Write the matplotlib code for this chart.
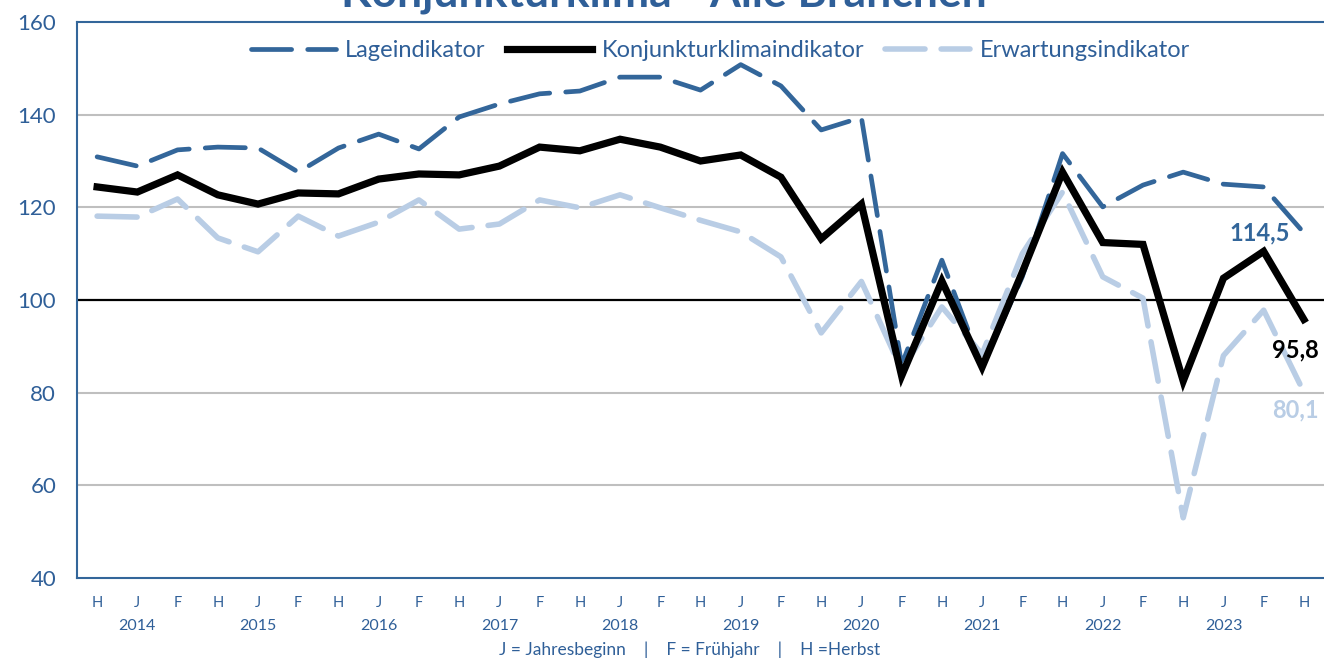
import matplotlib
matplotlib.use("Agg")
import matplotlib.pyplot as plt
from matplotlib.transforms import blended_transform_factory

plt.rcParams['font.family'] = ['Lato', 'DejaVu Sans']

periods = ["H", "J", "F"] * 10 + ["H"]
years = ["2014", "2015", "2016", "2017", "2018", "2019", "2020", "2021", "2022", "2023"]

lage = [130.9, 128.9, 132.4, 133.0, 132.8, 127.6, 132.8, 135.8, 132.6, 139.5,
        142.3, 144.5, 145.1, 148.1, 148.1, 145.3, 150.8, 146.2, 136.7, 139.4,
        86.0, 108.6, 85.5, 105.0, 131.6, 120.1, 124.8, 127.6, 125.0, 124.4, 114.5]
klima = [124.4, 123.3, 127.0, 122.7, 120.7, 123.1, 122.9, 126.1, 127.2, 127.0,
         128.9, 133.0, 132.2, 134.7, 133.0, 130.0, 131.3, 126.5, 113.2, 120.7,
         83.6, 104.1, 85.5, 106.0, 127.6, 112.4, 112.0, 82.5, 104.7, 110.5, 95.8]
erwartung = [118.1, 117.9, 121.8, 113.4, 110.4, 118.1, 113.8, 116.8, 121.6, 115.3,
             116.4, 121.6, 119.9, 122.7, 119.9, 117.2, 114.7, 109.3, 92.9, 104.0,
             84.9, 98.5, 88.3, 110.0, 123.3, 105.0, 100.4, 53.0, 88.0, 97.8, 80.1]

DARK = "#33669A"
LIGHT = "#B9CDE5"
TXT = "#2F5F98"

fig = plt.figure(figsize=(13.24, 6.60), dpi=100)
ax = fig.add_axes([77 / 1324, 1 - 578 / 660, 1 - 77 / 1324, (578 - 22) / 660])

x = list(range(len(periods)))

ax.set_ylim(40, 160)
ax.set_xlim(-0.5, len(periods) - 0.5)
ax.set_yticks([40, 60, 80, 100, 120, 140, 160])
for yv in [60, 80, 120, 140]:
    ax.axhline(yv, color="#BFBFBF", lw=1.5, zorder=1)
ax.axhline(100, color="black", lw=1.6, zorder=2)

l1, = ax.plot(x, lage, color=DARK, lw=3.4, linestyle=(0, (8.5, 3.4)),
              dash_capstyle='round', solid_capstyle='round', zorder=3,
              label="Lageindikator")
l3, = ax.plot(x, erwartung, color=LIGHT, lw=4.0, linestyle=(0, (7.2, 2.9)),
              dash_capstyle='round', zorder=3, label="Erwartungsindikator")
l2, = ax.plot(x, klima, color="black", lw=5.2, solid_joinstyle='miter',
              zorder=4, label="Konjunkturklimaindikator")

for s in ["left", "bottom", "top"]:
    ax.spines[s].set_color(DARK)
    ax.spines[s].set_linewidth(1.5)
ax.spines["right"].set_visible(False)

ax.set_xticks(x)
ax.set_xticklabels(periods, fontsize=10.5, color=TXT)
ax.tick_params(axis='x', length=0, pad=13)
ax.tick_params(axis='y', length=0, labelsize=16, labelcolor=TXT, pad=15)

tr = blended_transform_factory(ax.transData, ax.transAxes)
for i, yr in enumerate(years):
    ax.text(1 + 3 * i, -0.087, yr, transform=tr, ha='center', va='center',
            fontsize=11.5, color=TXT)

fig.text(690 / 1324, 1 - 650 / 660,
         "J = Jahresbeginn    |    F = Frühjahr    |    H =Herbst",
         ha='center', va='center', fontsize=12.5, color=TXT)

fig.text(664 / 1324, 1 - 7 / 660, "Konjunkturklima - Alle Branchen", ha='center',
         va='baseline', fontsize=32, fontweight='bold', color=TXT)

ax.legend(handles=[l1, l2, l3], loc='upper center', bbox_to_anchor=(0.516, 1.005),
          ncol=3, frameon=False, fontsize=17, handlelength=3.6,
          columnspacing=0.9, handletextpad=0.4, labelcolor=TXT)

ax.text(28.9, 114.5, "114,5", ha='center', va='center',
        fontsize=17, fontweight='bold', color=DARK)
ax.text(29.8, 89.2, "95,8", ha='center', va='center',
        fontsize=17, fontweight='bold', color="black")
ax.text(29.8, 76.3, "80,1", ha='center', va='center',
        fontsize=17, fontweight='bold', color=LIGHT)

fig.savefig("out.png", dpi=100)
